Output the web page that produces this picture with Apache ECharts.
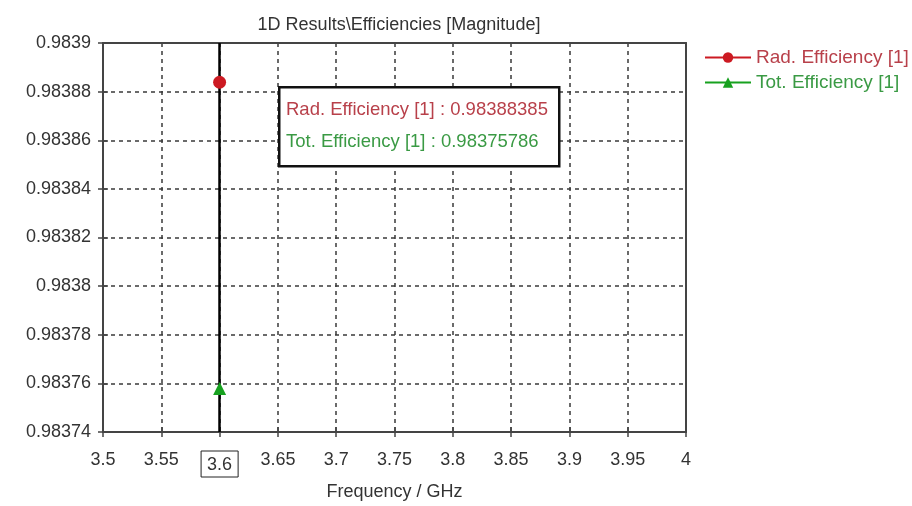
<!DOCTYPE html>
<html><head><meta charset="utf-8">
<script src="https://cdn.jsdelivr.net/npm/echarts@6/dist/echarts.min.js"></script>
<style>html,body{margin:0;padding:0;background:#fff}#c{width:912px;height:506px}</style>
</head><body><div id="c"></div>
<script>
const titleText = '1D Results\\Efficiencies [Magnitude]';
const xAxisName = 'Frequency / GHz';
const seriesNames = ['Rad. Efficiency [1]', 'Tot. Efficiency [1]'];
const frequency = [3.6];
const radEfficiency = [0.98388385];
const totEfficiency = [0.98375786];
const markerFreq = 3.6;
const xTicks = [3.5, 3.55, 3.6, 3.65, 3.7, 3.75, 3.8, 3.85, 3.9, 3.95, 4];
const yTicks = [0.98374, 0.98376, 0.98378, 0.9838, 0.98382, 0.98384, 0.98386, 0.98388, 0.9839];

const FONT = 'Liberation Sans';
const radColor = '#cc1a22', totColor = '#17a11f';
const radText = '#b8404a', totText = '#3a9a44';

const chart = echarts.init(document.getElementById('c'), null, {renderer: 'canvas'});
const grid = {left: 103, right: 226, top: 43, bottom: 73};
const xMin = xTicks[0], xMax = xTicks[xTicks.length - 1], xInt = xTicks[1] - xTicks[0];
const yMin = yTicks[0], yMax = yTicks[yTicks.length - 1], yInt = 0.00002;
const fmtX = v => parseFloat(v.toFixed(2)).toString();
const fmtY = v => parseFloat(v.toFixed(5)).toString();
const dashed = {type: [4, 4], color: '#3a3a3a', width: 1.5};

const option = {
  animation: false,
  textStyle: {fontFamily: FONT},
  title: {text: titleText, left: 394, textAlign: 'center', top: 11,
    textStyle: {fontFamily: FONT, fontSize: 18, fontWeight: 'normal', color: '#333'}},
  grid: grid,
  legend: {orient: 'vertical', left: 699, top: 43, itemWidth: 46, itemHeight: 13, itemGap: 6,
    textStyle: {fontFamily: FONT, fontSize: 19},
    data: [
      {name: seriesNames[0], textStyle: {color: radText}},
      {name: seriesNames[1], textStyle: {color: totText}}
    ]},
  xAxis: [{
    type: 'value', min: xMin, max: xMax, interval: xInt,
    name: xAxisName, nameLocation: 'middle', nameGap: 51,
    nameTextStyle: {fontFamily: FONT, fontSize: 18, color: '#333'},
    axisLine: {onZero: false, lineStyle: {color: '#444', width: 2}},
    axisTick: {show: true, length: 5, lineStyle: {color: '#444', width: 1.5}},
    axisLabel: {fontFamily: FONT, fontSize: 18, color: '#333', margin: 19,
      formatter: v => Math.abs(v - markerFreq) < 1e-9 ? '{hl|' + fmtX(v) + '}' : fmtX(v),
      rich: {hl: {fontFamily: FONT, fontSize: 18, color: '#333', borderColor: '#222', borderWidth: 1, padding: [5, 6, 3, 6]}}},
    splitLine: {show: true, lineStyle: dashed}
  }, {
    type: 'value', min: xMin, max: xMax, interval: xInt, position: 'bottom',
    axisLine: {show: false}, axisLabel: {show: false}, splitLine: {show: false},
    axisTick: {show: true, inside: true, length: 5, lineStyle: {color: '#444', width: 1.5}}
  }, {
    type: 'value', min: xMin, max: xMax, interval: xInt, position: 'top',
    axisLine: {show: true, lineStyle: {color: '#444', width: 2}}, axisLabel: {show: false}, splitLine: {show: false},
    axisTick: {show: false}
  }],
  yAxis: [{
    type: 'value', min: yMin, max: yMax, interval: yInt,
    axisLine: {show: true, onZero: false, lineStyle: {color: '#444', width: 2}},
    axisTick: {show: true, length: 5, lineStyle: {color: '#444', width: 1.5}},
    axisLabel: {fontFamily: FONT, fontSize: 18, color: '#333', margin: 12, formatter: fmtY},
    splitLine: {show: true, lineStyle: dashed}
  }, {
    type: 'value', min: yMin, max: yMax, interval: yInt, position: 'left',
    axisLine: {show: false}, axisLabel: {show: false}, splitLine: {show: false},
    axisTick: {show: true, inside: true, length: 5, lineStyle: {color: '#444', width: 1.5}}
  }, {
    type: 'value', min: yMin, max: yMax, interval: yInt, position: 'right',
    axisLine: {show: true, lineStyle: {color: '#444', width: 2}}, axisLabel: {show: false}, splitLine: {show: false},
    axisTick: {show: false}
  }],
  series: [
    {name: seriesNames[0], type: 'line', xAxisIndex: 0, yAxisIndex: 0,
      data: frequency.map((f, i) => [f, radEfficiency[i]]),
      symbol: 'circle', symbolSize: 13, color: radColor,
      lineStyle: {color: radColor, width: 2},
      itemStyle: {color: radColor},
      markLine: {silent: true, symbol: ['none', 'none'], label: {show: false},
        lineStyle: {color: '#000', width: 2.5, type: 'solid'},
        data: [{xAxis: markerFreq}]},
      z: 5},
    {name: seriesNames[1], type: 'line', xAxisIndex: 0, yAxisIndex: 0,
      data: frequency.map((f, i) => [f, totEfficiency[i]]),
      symbol: 'triangle', symbolSize: 13, color: totColor,
      lineStyle: {color: totColor, width: 2},
      itemStyle: {color: totColor}, z: 5}
  ],
  graphic: [
    {type: 'rect', left: 278, top: 86, z: 100, zlevel: 1, shape: {x: 0, y: 0, width: 280, height: 79},
      style: {fill: '#fff', stroke: '#111', lineWidth: 2.5}},
    {type: 'text', left: 286, top: 100, z: 101, zlevel: 1, style: {text: seriesNames[0] + ' : ' + radEfficiency[0].toFixed(8),
      fill: radText, font: '18.5px "' + FONT + '"'}},
    {type: 'text', left: 286, top: 132, z: 101, zlevel: 1, style: {text: seriesNames[1] + ' : ' + totEfficiency[0].toFixed(8),
      fill: totText, font: '18.5px "' + FONT + '"'}}
  ]
};
chart.setOption(option);
</script></body></html>
